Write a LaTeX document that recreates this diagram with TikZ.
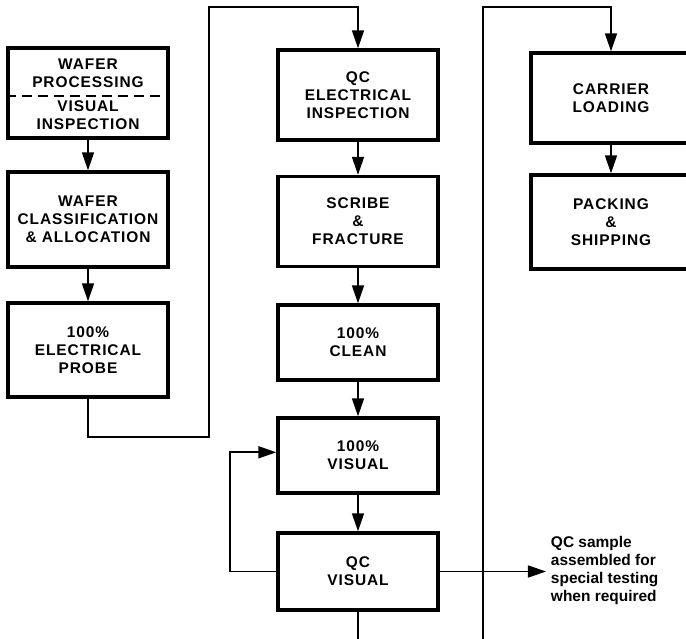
\documentclass[tikz,border=0pt]{standalone}
\usepackage{fontspec}
\setmainfont{Liberation Sans}
\newfontfamily\boxfont[LetterSpace=6]{Liberation Sans}
\usetikzlibrary{arrows.meta,positioning}

\begin{document}
\begin{tikzpicture}[
    x=0.025cm, y=-0.025cm,
    stepbox/.style={rectangle, draw, line width=2.4pt, minimum width=4cm, minimum height=2.25cm, align=center, font=\boxfont\bfseries\fontsize{11}{12.8}\selectfont},
    lbl/.style={align=center, font=\boxfont\bfseries\fontsize{11}{12.8}\selectfont},
    flow/.style={line width=1.2pt, -{Triangle[length=4.5mm, width=3mm]}},
    wire/.style={line width=1.2pt}
]
    \useasboundingbox (0,0) rectangle (686,639);
    \clip (0,0) rectangle (686,639);

    % Wafer column
    \node[stepbox] (wp) at (88,93) {};
    \node[lbl] (wpa) at (88,73) {WAFER\\PROCESSING};
    \node[lbl] (wpb) at (88,115) {VISUAL\\INSPECTION};
    \draw[line width=1.4pt, dash pattern=on 0.25cm off 0.15cm] ([yshift=-0.075cm]wp.west) -- ([yshift=-0.075cm]wp.east);
    \node[stepbox, minimum height=2.375cm] (wc) at (88,219.5) {WAFER\\CLASSIFICATION\\\& ALLOCATION};
    \node[stepbox, minimum height=2.35cm] (pr) at (88,350) {100\%\\ELECTRICAL\\PROBE};

    % Die column
    \node[stepbox] (qe) at (358,95) {QC\\ELECTRICAL\\INSPECTION};
    \node[stepbox] (sf) at (358,221.5) {SCRIBE\\\&\\FRACTURE};
    \node[stepbox, minimum height=1.875cm] (cl) at (358,342.5) {100\%\\CLEAN};
    \node[stepbox, minimum height=1.875cm] (vi) at (358,455.5) {100\%\\VISUAL};
    \node[stepbox, minimum height=1.925cm] (qv) at (358,571.5) {QC\\VISUAL};

    % Shipping column (cut off at the right)
    \node[stepbox] (cr) at (611,98) {CARRIER\\LOADING};
    \node[stepbox, minimum height=2.35cm] (ps) at (611,222) {PACKING\\\&\\SHIPPING};

    % QC sample note
    \node[align=left, anchor=west, font=\bfseries\fontsize{11}{12.8}\selectfont] (smp) at (546,570) {QC sample\\assembled for\\special testing\\when required};

    % Turning points
    \coordinate (p1) at (209,437);
    \coordinate (p2) at (209,7);
    \coordinate (q1) at (483,639);
    \coordinate (q2) at (483,7);
    \coordinate (q3) at (358,639);
    \coordinate (lp) at (230,571.5);

    \draw[flow] (wp) -- (wc);
    \draw[flow] (wc) -- (pr);
    \draw[flow] (pr.south) |- (p1) -- (p2) -| (qe.north);
    \draw[flow] (qe) -- (sf);
    \draw[flow] (sf) -- (cl);
    \draw[flow] (cl) -- (vi);
    \draw[flow] (vi) -- (qv);
    \draw[wire] (qv.south) -- (q3);
    \draw[flow] (qv.west) -- (lp) |- ([yshift=0.08cm]vi.west);
    \draw[flow] (qv.east) -- (qv.east -| smp.west);
    \draw[flow] (q1) -- (q2) -| (cr.north);
    \draw[flow] (cr) -- (ps);
\end{tikzpicture}
\end{document}
